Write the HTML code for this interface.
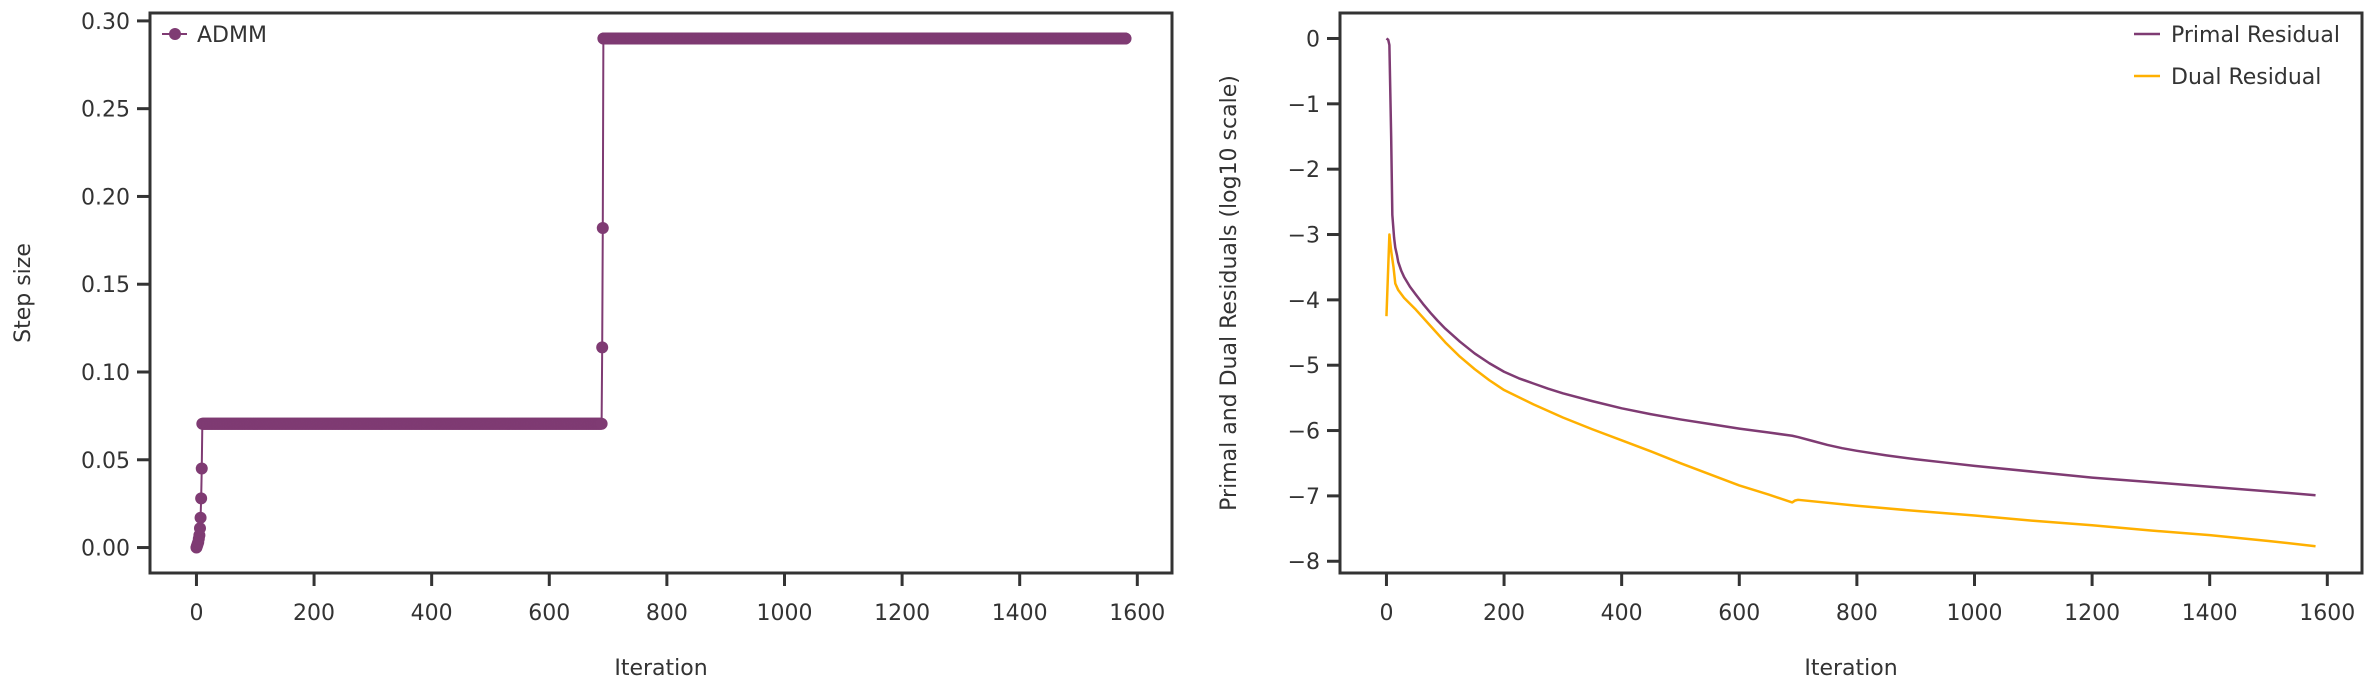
<!DOCTYPE html>
<html><head><meta charset="utf-8"><style>
html,body{margin:0;padding:0;background:#fff;}
svg{display:block;font-family:"DejaVu Sans","Liberation Sans",sans-serif;}
</style></head><body>
<svg id="c" width="2373" height="693" viewBox="0 0 2373 693" xmlns="http://www.w3.org/2000/svg"></svg>
<script>
// ---- data ----
const stepIterRamp = [0,1,2,3,4,5,6,7,8,9];
const stepRampValues = [0.0,0.001,0.002,0.003,0.005,0.007,0.011,0.017,0.028,0.045];
const stepPlateau1 = 0.0705;
const stepPlateau1Range = [10,689];
const stepJumpIters = [690,691];
const stepJumpValues = [0.114,0.182];
const stepPlateau2 = 0.29;
const stepPlateau2Range = [692,1580];
const primalIters = [0,3,5,8,10,13,15,18,20,25,30,40,50,62,75,87,100,125,150,175,200,225,250,275,300,350,400,450,500,550,600,650,690,700,725,750,775,800,850,900,950,1000,1100,1200,1300,1400,1500,1580];
const primalValues = [0,-0.02,-0.1,-1.5,-2.7,-3.05,-3.2,-3.32,-3.42,-3.55,-3.65,-3.8,-3.92,-4.06,-4.2,-4.32,-4.44,-4.64,-4.82,-4.97,-5.1,-5.2,-5.28,-5.36,-5.43,-5.55,-5.66,-5.75,-5.83,-5.9,-5.97,-6.03,-6.08,-6.1,-6.16,-6.22,-6.27,-6.31,-6.38,-6.44,-6.49,-6.54,-6.63,-6.72,-6.79,-6.86,-6.93,-6.99];
const dualIters = [0,5,8,12,15,20,30,50,75,100,125,150,175,200,250,300,350,400,450,500,550,600,650,690,695,700,800,900,1000,1100,1200,1300,1400,1500,1580];
const dualValues = [-4.25,-3.0,-3.25,-3.5,-3.75,-3.85,-3.97,-4.15,-4.4,-4.65,-4.87,-5.06,-5.23,-5.38,-5.6,-5.8,-5.98,-6.15,-6.32,-6.5,-6.67,-6.84,-6.98,-7.1,-7.07,-7.06,-7.15,-7.23,-7.3,-7.38,-7.45,-7.53,-7.6,-7.69,-7.77];
const xTicks = [0,200,400,600,800,1000,1200,1400,1600];
const leftYTicks = [0.00,0.05,0.10,0.15,0.20,0.25,0.30];
const rightYTicks = [0,-1,-2,-3,-4,-5,-6,-7,-8];

const NS="http://www.w3.org/2000/svg";
const svg=document.getElementById('c');
function el(tag,attrs,parent,text){const e=document.createElementNS(NS,tag);for(const k in attrs)e.setAttribute(k,attrs[k]);if(text!==undefined)e.textContent=text;(parent||svg).appendChild(e);return e;}
const PURPLE="#7f3b73", ORANGE="#ffb000", INK="#333333";
const TOP=13,BOT=573;
function makeX(x0,x1){return v=>x0+(v+79)/(1659+79)*(x1-x0);}
function makeY(lo,hi){return v=>BOT-(v-lo)/(hi-lo)*(BOT-TOP);}

function axes(name,x0,x1,sx,sy,yt,fmt,ylabel,ylx){
  const g=el('g',{},svg);
  
  
  xTicks.forEach(t=>{
    const x=sx(t);
    const l=el('line',{x1:x,x2:x,y1:BOT,y2:BOT+13,stroke:INK,'stroke-width':3},g);
    
    
    const tx=el('text',{x:x,y:620,'font-size':22,fill:INK,'text-anchor':'middle'},g,String(t));
    
    
  });
  yt.forEach(t=>{
    const y=sy(t);
    const l=el('line',{x1:x0-13,x2:x0,y1:y,y2:y,stroke:INK,'stroke-width':3},g);
    
    
    const tx=el('text',{x:x0-20,y:y+8,'font-size':22,fill:INK,'text-anchor':'end'},g,fmt(t));
    
    
  });
  const xl=el('text',{x:(x0+x1)/2,y:675,'font-size':22,fill:INK,'text-anchor':'middle'},g,'Iteration');
  
  
  const yl=el('text',{x:0,y:0,'font-size':22,fill:INK,'text-anchor':'middle',transform:`translate(${ylx},${(TOP+BOT)/2}) rotate(-90)`},g,ylabel);
  
  
  return g;
}
function frame(name,x0,x1){
  const r=el('rect',{x:x0,y:TOP,width:x1-x0,height:BOT-TOP,fill:'none',stroke:INK,'stroke-width':3});
  
  
}

// ---- left chart ----
const L0=150,L1=1172;
const lx=makeX(L0,L1), ly=makeY(-0.0145,0.3045);
axes('step-size-axes',L0,L1,lx,ly,leftYTicks,t=>t.toFixed(2),'Step size',30);
const sIt=[],sVal=[];
stepIterRamp.forEach((it,i)=>{sIt.push(it);sVal.push(stepRampValues[i]);});
for(let i=stepPlateau1Range[0];i<=stepPlateau1Range[1];i++){sIt.push(i);sVal.push(stepPlateau1);}
stepJumpIters.forEach((it,i)=>{sIt.push(it);sVal.push(stepJumpValues[i]);});
for(let i=stepPlateau2Range[0];i<=stepPlateau2Range[1];i++){sIt.push(i);sVal.push(stepPlateau2);}
const sl=el('polyline',{points:sIt.map((v,i)=>lx(v)+','+ly(sVal[i])).join(' '),fill:'none',stroke:PURPLE,'stroke-width':2});


const mg=el('g',{fill:PURPLE});


sIt.forEach((v,i)=>{el('circle',{cx:lx(v),cy:ly(sVal[i]),r:6},mg);});
frame('step-size-frame',L0,L1);
const lg=el('g',{});


el('line',{x1:162,x2:187,y1:34,y2:34,stroke:PURPLE,'stroke-width':2},lg);
el('circle',{cx:175,cy:34,r:6,fill:PURPLE},lg);
el('text',{x:197,y:42,'font-size':22,fill:INK},lg,'ADMM');

// ---- right chart ----
const R0=1340,R1=2362;
const rx=makeX(R0,R1), ry=makeY(-8.18,0.39);
axes('residual-axes',R0,R1,rx,ry,rightYTicks,t=>t===0?'0':'\u2212'+Math.abs(t),'Primal and Dual Residuals (log10 scale)',1236);
const pl=el('polyline',{points:primalIters.map((v,i)=>rx(v)+','+ry(primalValues[i])).join(' '),fill:'none',stroke:PURPLE,'stroke-width':2.5,'stroke-linejoin':'round'});


const dl=el('polyline',{points:dualIters.map((v,i)=>rx(v)+','+ry(dualValues[i])).join(' '),fill:'none',stroke:ORANGE,'stroke-width':2.5,'stroke-linejoin':'round'});


frame('residual-frame',R0,R1);
const rg=el('g',{});


el('line',{x1:2134,x2:2160,y1:34,y2:34,stroke:PURPLE,'stroke-width':2.5},rg);
el('text',{x:2171,y:42,'font-size':22,fill:INK},rg,'Primal Residual');
el('line',{x1:2134,x2:2160,y1:76,y2:76,stroke:ORANGE,'stroke-width':2.5},rg);
el('text',{x:2171,y:84,'font-size':22,fill:INK},rg,'Dual Residual');
</script>
</body></html>
